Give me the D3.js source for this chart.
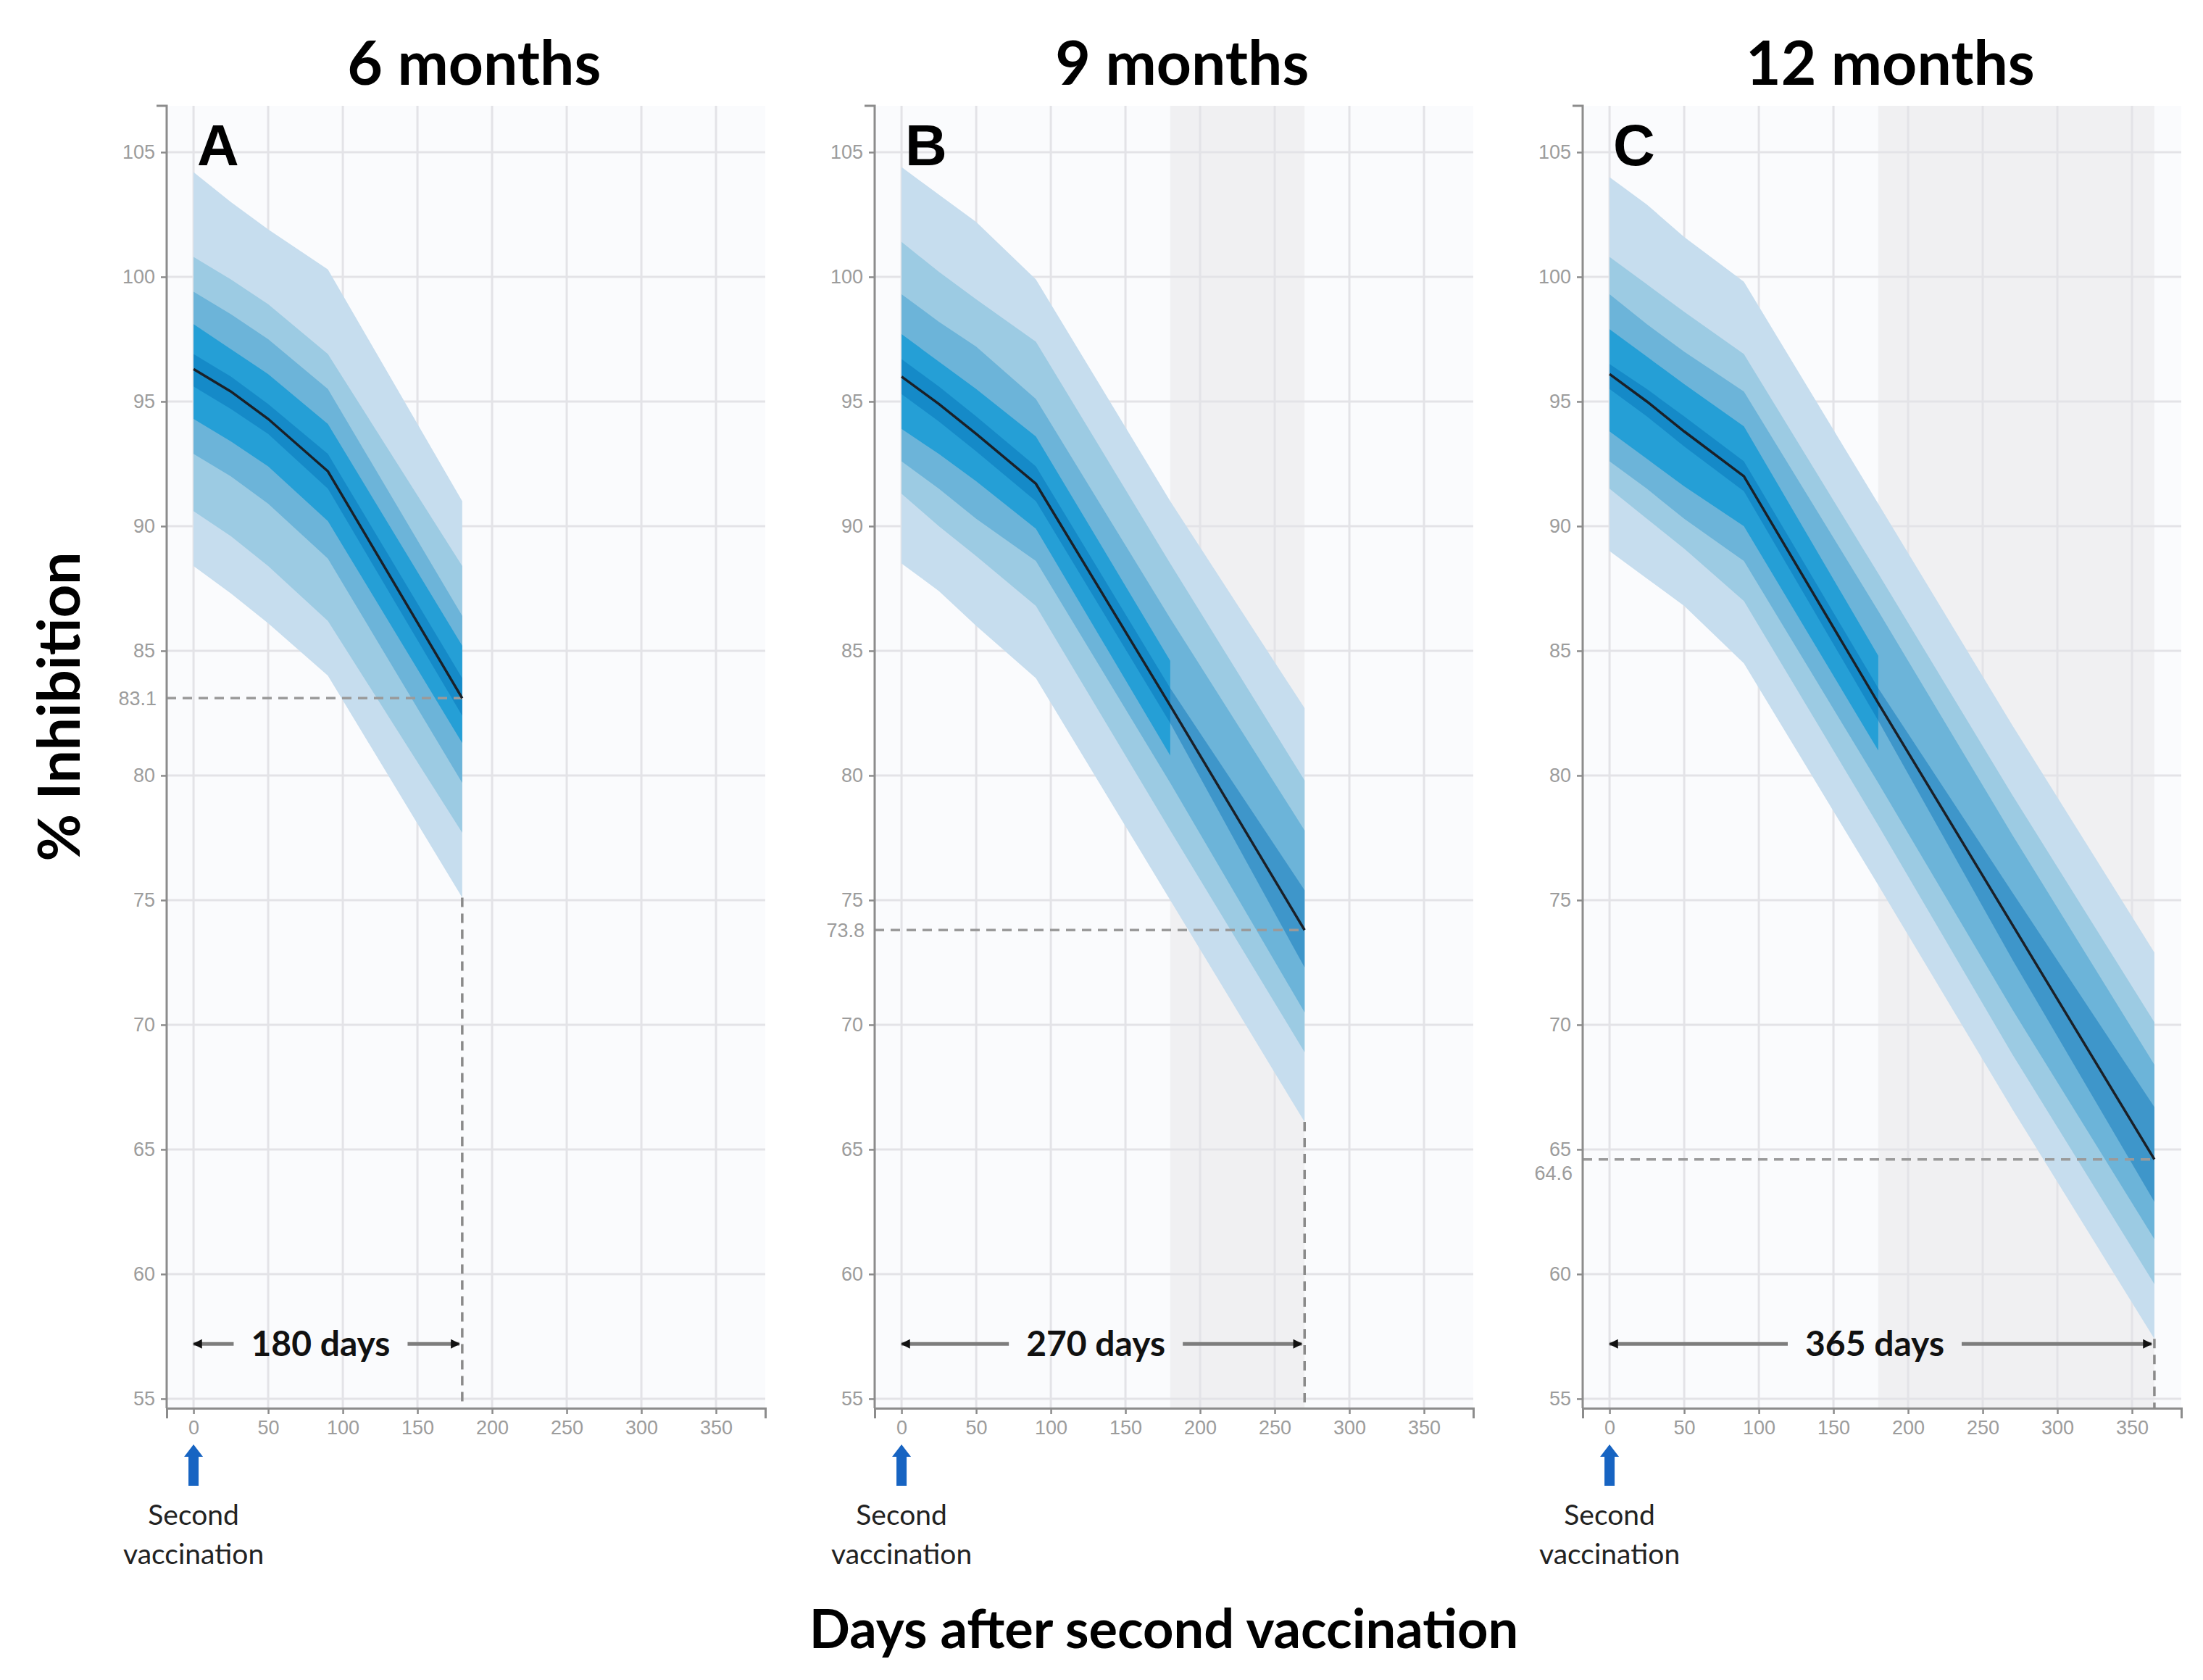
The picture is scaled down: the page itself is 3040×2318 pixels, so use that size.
<!DOCTYPE html>
<html>
<head>
<meta charset="utf-8">
<script src="https://cdn.jsdelivr.net/npm/d3@7"></script>
<style>
  body { margin: 0; background: #fff; }
  .tick text { font-family: "Liberation Sans", Arial, sans-serif; }
</style>
</head>
<body>
<div id="chart"></div>
<script>
// panel level settings
var panelNames = ["A", "B", "C"];
var panelTitles = ["6 months", "9 months", "12 months"];
var endDays = [180, 270, 365];
var finalValues = [83.1, 73.8, 64.6];
var spanLabels = ["180 days", "270 days", "365 days"];
var shadeFrom = [null, 180, 180];

var xTicks = [0, 50, 100, 150, 200, 250, 300, 350];
var yTicks = [55, 60, 65, 70, 75, 80, 85, 90, 95, 100, 105];

// panel A (6 months)
var daysA = [0, 25, 50, 90, 180];
var medianA = [96.3, 95.4, 94.3, 92.2, 83.1];
var hiA = [
  [104.2, 103.0, 101.9, 100.3, 91.0],
  [100.8, 99.9, 98.9, 96.9, 88.4],
  [99.4, 98.5, 97.5, 95.5, 86.4],
  [98.1, 97.1, 96.1, 94.1, 85.2],
  [96.9, 96.0, 94.9, 92.9, 83.9]
];
var loA = [
  [88.4, 87.3, 86.1, 84.0, 75.1],
  [90.6, 89.6, 88.4, 86.2, 77.7],
  [92.9, 92.0, 90.9, 88.7, 79.7],
  [94.3, 93.4, 92.4, 90.2, 81.3],
  [95.6, 94.7, 93.7, 91.5, 82.4]
];

// panel B (9 months)
var daysB = [0, 25, 50, 90, 180, 270];
var medianB = [96.0, 94.9, 93.7, 91.7, 82.8, 73.8];
var hiB = [
  [104.4, 103.3, 102.2, 99.9, 91.0, 82.7],
  [101.4, 100.2, 99.1, 97.4, 88.5, 79.8],
  [99.3, 98.2, 97.2, 95.1, 86.3, 77.8],
  [97.7, 96.6, 95.5, 93.6, 84.6, null],
  [96.7, 95.6, 94.4, 92.4, 83.5, 75.4]
];
var loB = [
  [88.5, 87.4, 86.0, 83.9, 75.0, 66.1],
  [91.3, 90.0, 88.8, 86.8, 77.8, 68.9],
  [92.6, 91.5, 90.3, 88.6, 79.7, 70.5],
  [93.9, 92.9, 91.8, 89.9, 80.8, null],
  [95.3, 94.2, 93.0, 91.0, 82.1, 72.3]
];

// panel C (12 months)
var daysC = [0, 25, 50, 90, 180, 270, 365];
var medianC = [96.1, 95.0, 93.8, 92.0, 82.9, 74.0, 64.6];
var hiC = [
  [104.0, 102.9, 101.6, 99.8, 90.9, 82.0, 72.9],
  [100.8, 99.7, 98.6, 96.9, 88.1, 79.2, 70.1],
  [99.3, 98.1, 97.0, 95.4, 86.6, 77.6, 68.4],
  [97.9, 96.8, 95.7, 94.0, 84.8, null, null],
  [96.5, 95.5, 94.4, 92.6, 83.5, 75.3, 66.7]
];
var loC = [
  [89.0, 87.9, 86.8, 84.5, 75.6, 66.6, 57.4],
  [91.5, 90.3, 89.1, 87.0, 78.0, 68.8, 59.6],
  [92.6, 91.5, 90.3, 88.6, 79.7, 70.6, 61.4],
  [93.8, 92.7, 91.6, 90.0, 81.0, null, null],
  [95.5, 94.4, 93.2, 91.4, 82.2, 72.6, 62.9]
];

var panelDays = [daysA, daysB, daysC];
var panelMedian = [medianA, medianB, medianC];
var panelHi = [hiA, hiB, hiC];
var panelLo = [loA, loB, loC];

// outer band first, core band last (core is see-through so it reads darker over the strong band)
var bandColors = ["#c6ddee", "#9ccbe3", "#6cb4d9", "#259fd6", "rgba(0,110,180,0.42)"];

var W = 3040, H = 2318;
var plotTop = 146, plotBottom = 1943;
var plotW = 826, firstLeft = 230, step = 977;

var svg = d3.select("#chart")
  .append("svg")
  .attr("width", W).attr("height", H);

var defs = svg.append("defs");
defs.append("marker")
  .attr("id", "head")
  .attr("viewBox", "0 0 10 10")
  .attr("refX", 9).attr("refY", 5)
  .attr("markerUnits", "userSpaceOnUse")
  .attr("markerWidth", 16).attr("markerHeight", 13)
  .attr("orient", "auto")
  .append("path")
  .attr("d", "M0,0 L10,5 L0,10 Z")
  .attr("fill", "#111");

var y = d3.scaleLinear().domain([54.62, 106.86]).range([plotBottom, plotTop]);

panelNames.forEach(function(name, i) {
  var left = firstLeft + i * step;
  var x = d3.scaleLinear().domain([-18, 383]).range([0, plotW]);
  var g = svg.append("g").attr("transform", "translate(" + left + ",0)");
  var days = panelDays[i];
  var end = endDays[i];

  // plot background
  g.append("rect")
    .attr("x", 0).attr("y", plotTop)
    .attr("width", plotW).attr("height", plotBottom - plotTop)
    .attr("fill", "#fafbfd");

  // shaded extrapolation period
  if (shadeFrom[i] != null) {
    g.append("rect")
      .attr("x", x(shadeFrom[i])).attr("y", plotTop)
      .attr("width", x(end) - x(shadeFrom[i]))
      .attr("height", plotBottom - plotTop)
      .attr("fill", "#f0f0f2");
  }

  // grid
  g.selectAll(".hgrid").data(yTicks).enter().append("line")
    .attr("x1", 0).attr("x2", plotW)
    .attr("y1", function(d) { return y(d); })
    .attr("y2", function(d) { return y(d); })
    .attr("stroke", "#e3e3e7").attr("stroke-width", 3);
  g.selectAll(".vgrid").data(xTicks).enter().append("line")
    .attr("y1", plotTop).attr("y2", plotBottom)
    .attr("x1", function(d) { return x(d); })
    .attr("x2", function(d) { return x(d); })
    .attr("stroke", "#e3e3e7").attr("stroke-width", 3);

  // bands
  panelHi[i].forEach(function(hi, k) {
    var lo = panelLo[i][k];
    var pts = days.map(function(d, j) { return { day: d, lo: lo[j], hi: hi[j] }; });
    var area = d3.area()
      .defined(function(p) { return p.hi != null && p.lo != null; })
      .x(function(p) { return x(p.day); })
      .y0(function(p) { return y(p.lo); })
      .y1(function(p) { return y(p.hi); });
    g.append("path")
      .attr("d", area(pts))
      .attr("fill", bandColors[k]);
  });

  // reference lines at the end of the period
  var fin = finalValues[i];
  g.append("line")
    .attr("x1", 0).attr("x2", x(end))
    .attr("y1", y(fin)).attr("y2", y(fin))
    .attr("stroke", "#9a9a9a").attr("stroke-width", 3.5)
    .attr("stroke-dasharray", "13,9");
  var outerLo = panelLo[i][0];
  g.append("line")
    .attr("x1", x(end)).attr("x2", x(end))
    .attr("y1", y(outerLo[outerLo.length - 1])).attr("y2", plotBottom)
    .attr("stroke", "#8a8a8a").attr("stroke-width", 3.5)
    .attr("stroke-dasharray", "13,9");

  // median
  var line = d3.line()
    .x(function(d, j) { return x(days[j]); })
    .y(function(d) { return y(d); });
  g.append("path")
    .attr("d", line(panelMedian[i]))
    .attr("fill", "none")
    .attr("stroke", "#1a2028").attr("stroke-width", 3.5);

  // axes
  var xAxis = d3.axisBottom(x).tickValues(xTicks)
    .tickSizeInner(8).tickSizeOuter(14).tickPadding(9);
  var yAxis = d3.axisLeft(y).tickValues(yTicks)
    .tickSizeInner(8).tickSizeOuter(14).tickPadding(8);

  var gx = g.append("g").attr("transform", "translate(0," + plotBottom + ")").call(xAxis);
  var gy = g.append("g").call(yAxis);
  [gx, gy].forEach(function(ax) {
    ax.select(".domain").attr("stroke", "#8c8c8c").attr("stroke-width", 3);
    ax.selectAll(".tick line").attr("stroke", "#8c8c8c").attr("stroke-width", 2.5);
    ax.selectAll(".tick text").attr("fill", "#9c9c9c").attr("font-size", 27);
  });
  gy.select(".domain").attr("d", "M-14," + plotTop + "H0V" + plotBottom);

  // value label for the end point
  var nearTick = yTicks.some(function(t) { return Math.abs(t - fin) < 1; });
  g.append("text")
    .attr("x", -14).attr("y", y(fin))
    .attr("dy", nearTick ? "1.05em" : "0.35em")
    .attr("text-anchor", "end")
    .attr("font-family", "Liberation Sans, Arial, sans-serif")
    .attr("font-size", 27).attr("fill", "#9c9c9c")
    .text(fin.toFixed(1));

  // span arrow with label
  var arrowY = y(57.2);
  var mid = x(end / 2) - 10;
  var label = g.append("text")
    .attr("x", mid).attr("y", arrowY)
    .attr("dy", "0.35em")
    .attr("text-anchor", "middle")
    .attr("font-family", "Lato, sans-serif").attr("font-weight", 700)
    .attr("font-size", 48).attr("fill", "#111")
    .text(spanLabels[i]);
  var half = label.node().getComputedTextLength() / 2;
  var gap = 24;
  g.append("line")
    .attr("x1", mid - half - gap).attr("x2", x(0))
    .attr("y1", arrowY).attr("y2", arrowY)
    .attr("stroke", "#7d7d7d").attr("stroke-width", 5)
    .attr("marker-end", "url(#head)");
  g.append("line")
    .attr("x1", mid + half + gap).attr("x2", x(end) - 4)
    .attr("y1", arrowY).attr("y2", arrowY)
    .attr("stroke", "#7d7d7d").attr("stroke-width", 5)
    .attr("marker-end", "url(#head)");

  // panel letter
  g.append("text")
    .attr("x", x(0) + 5).attr("y", plotTop + 82)
    .attr("font-family", "Liberation Sans, Arial, sans-serif").attr("font-weight", 700)
    .attr("font-size", 80).attr("fill", "#000")
    .text(name);

  // panel title
  g.append("text")
    .attr("x", x(188)).attr("y", 117)
    .attr("text-anchor", "middle")
    .attr("font-family", "Lato, sans-serif").attr("font-weight", 700)
    .attr("font-size", 84).attr("fill", "#000")
    .text(panelTitles[i]);

  // second vaccination marker
  var ax0 = x(0), tip = plotBottom + 50;
  g.append("path")
    .attr("d", "M" + ax0 + "," + tip +
      "L" + (ax0 + 13) + "," + (tip + 17) +
      "L" + (ax0 + 7) + "," + (tip + 17) +
      "L" + (ax0 + 7) + "," + (tip + 57) +
      "L" + (ax0 - 7) + "," + (tip + 57) +
      "L" + (ax0 - 7) + "," + (tip + 17) +
      "L" + (ax0 - 13) + "," + (tip + 17) + "Z")
    .attr("fill", "#1764c2");
  g.append("text")
    .attr("x", ax0).attr("y", plotBottom + 161)
    .attr("text-anchor", "middle")
    .attr("font-family", "Lato, sans-serif").attr("font-size", 39).attr("fill", "#222")
    .text("Second");
  g.append("text")
    .attr("x", ax0).attr("y", plotBottom + 215)
    .attr("text-anchor", "middle")
    .attr("font-family", "Lato, sans-serif").attr("font-size", 39).attr("fill", "#222")
    .text("vaccination");
});

// shared axis titles
svg.append("text")
  .attr("transform", "translate(110,975) rotate(-90)")
  .attr("text-anchor", "middle")
  .attr("font-family", "Lato, sans-serif").attr("font-weight", 700)
  .attr("font-size", 80).attr("fill", "#000")
  .text("% Inhibition");

svg.append("text")
  .attr("x", 1606).attr("y", 2274)
  .attr("text-anchor", "middle")
  .attr("font-family", "Lato, sans-serif").attr("font-weight", 700)
  .attr("font-size", 74).attr("fill", "#000")
  .text("Days after second vaccination");
</script>
</body>
</html>
